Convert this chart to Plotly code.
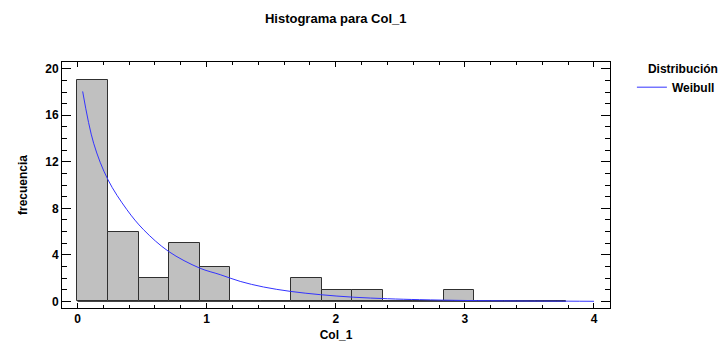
import plotly.graph_objects as go

# Histogram data
bin_start = 0.0
bin_width = 0.2364
counts = [19, 6, 2, 5, 3, 0, 0, 2, 1, 1, 0, 0, 1, 0, 0, 0]

# Fitted Weibull curve
curve_x = [0.04, 0.125, 0.236, 0.383, 0.512, 0.705, 0.945, 1.105, 1.26, 1.44,
           1.65, 1.88, 2.14, 2.40, 2.65, 3.0, 3.4, 3.8, 4.0]
curve_y = [18.05, 13.6, 10.46, 7.88, 6.16, 4.30, 2.87, 2.30, 1.72, 1.24,
           0.86, 0.58, 0.36, 0.23, 0.15, 0.08, 0.04, 0.02, 0.01]

title_text = "Histograma para Col_1"
x_title = "Col_1"
y_title = "frecuencia"
legend_title = "Distribución"
series_name = "Weibull"

centers = [bin_start + (i + 0.5) * bin_width for i in range(len(counts))]
edges_end = bin_start + len(counts) * bin_width

FONT = "Liberation Sans, Arial, sans-serif"

fig = go.Figure()
fig.add_trace(go.Bar(
    x=centers, y=counts, width=[bin_width] * len(counts),
    marker=dict(color="#c0c0c0", line=dict(color="#303030", width=1)),
    showlegend=False, hoverinfo="skip",
))
# baseline of the (empty) bins
fig.add_trace(go.Scatter(
    x=[bin_start, edges_end], y=[0, 0], mode="lines",
    line=dict(color="#303030", width=1), showlegend=False, hoverinfo="skip",
))
fig.add_trace(go.Scatter(
    x=curve_x, y=curve_y, mode="lines", name=series_name,
    line=dict(color="#3333ff", width=1, shape="spline"),
))

fig.update_layout(
    width=722, height=342,
    margin=dict(l=62, r=112, t=62, b=34, autoexpand=False),
    paper_bgcolor="white", plot_bgcolor="white",
    font=dict(family=FONT, size=12, color="black", weight="bold"),
    title=dict(text=title_text, x=0.465, xanchor="center",
               y=1 - 18 / 342, yanchor="middle",
               font=dict(family=FONT, size=13, weight="bold", color="black")),
    bargap=0,
    showlegend=True,
    legend=dict(
        x=1.04, xanchor="left", y=1.02, yanchor="top",
        title=dict(text=legend_title, side="top right",
                   font=dict(family=FONT, size=12, weight="bold")),
        font=dict(family=FONT, size=12, weight="bold"),
        bgcolor="rgba(0,0,0,0)", borderwidth=0, tracegroupgap=0,
    ),
)

fig.update_xaxes(
    range=[-0.12, 4.124],
    tickmode="array", tickvals=[0, 1, 2, 3, 4], ticktext=["0", "1", "2", "3", "4"],
    ticks="inside", ticklen=5, tickwidth=1, tickcolor="black",
    minor=dict(tickmode="linear", tick0=0, dtick=0.2, ticks="inside", ticklen=3,
               tickcolor="black", showgrid=False),
    showline=True, linecolor="black", linewidth=1, mirror="allticks",
    showgrid=False, zeroline=False, automargin=False,
    tickfont=dict(family=FONT, size=12, weight="bold"),
    title=dict(text=x_title, font=dict(family=FONT, size=12, weight="bold")),
)
fig.update_yaxes(
    range=[-0.567, 20.58],
    tickmode="array", tickvals=[0, 4, 8, 12, 16, 20],
    ticks="inside", ticklen=9, tickwidth=1, tickcolor="black",
    minor=dict(tickmode="linear", tick0=0, dtick=1, ticks="inside", ticklen=5,
               tickcolor="black", showgrid=False),
    showline=True, linecolor="black", linewidth=1, mirror="allticks",
    showgrid=False, zeroline=False, automargin=False,
    tickfont=dict(family=FONT, size=12, weight="bold"),
    title=dict(text=y_title, font=dict(family=FONT, size=12, weight="bold")),
)

fig.write_html(
    "out.html",
    config={"displayModeBar": False},
    post_script="document.body.style.margin='0px';document.body.style.overflow='hidden';",
)
